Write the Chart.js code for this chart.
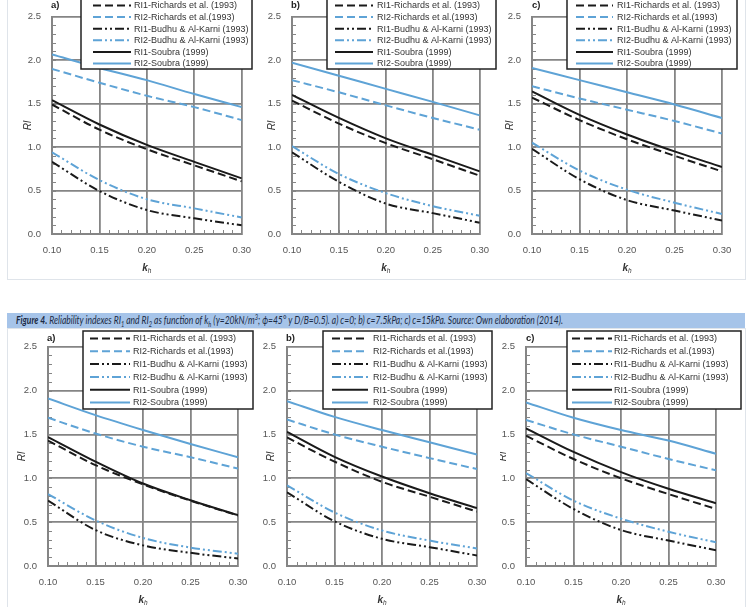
<!DOCTYPE html>
<html><head><meta charset="utf-8">
<script src="https://cdn.jsdelivr.net/npm/chart.js@4"></script>
<style>
html,body{margin:0;padding:0;background:#fff}
body{width:749px;height:607px;overflow:hidden;position:relative;font-family:"Liberation Sans",Arial,sans-serif}
canvas{position:absolute}
.frame{position:absolute;border:1px solid #dfe4ea;box-sizing:border-box}
#cap{position:absolute;left:7px;top:313px;width:738px;height:15px;background:#a6c4e9;font-family:Lato,"Open Sans",sans-serif;font-style:italic;font-size:10.5px;line-height:15px;color:#1b2a44;padding-left:9px;box-sizing:border-box;white-space:nowrap}
#cap span.t{display:inline-block;transform:scaleX(0.81);transform-origin:left center}
#cap sub,#cap sup{font-size:7px;line-height:0}
</style></head><body>
<div class="frame" style="left:7px;top:-2px;width:739px;height:282px"></div>
<div class="frame" style="left:7px;top:328px;width:739px;height:290px"></div>
<div id="cap"><span class="t"><b>Figure 4.</b> Reliability indexes RI<sub>1</sub> and RI<sub>2</sub> as function of k<sub>h</sub> (γ=20kN/m<sup>3</sup>; ϕ=45° y D/B=0.5). a) c=0; b) c=7.5kPa; c) c=15kPa. Source: Own elaboration (2014).</span></div>
<script>
// ---------- data ----------
const kh = [0.10, 0.15, 0.20, 0.25, 0.30];
const xTicks = [0.10, 0.15, 0.20, 0.25, 0.30];
const yTicks = [0.0, 0.5, 1.0, 1.5, 2.0, 2.5];
const seriesLabels = [
  'RI1-Richards et al. (1993)',
  'RI2-Richards et al.(1993)',
  'RI1-Budhu & Al-Karni (1993)',
  'RI2-Budhu & Al-Karni (1993)',
  'RI1-Soubra (1999)',
  'RI2-Soubra (1999)'
];
const panelLetters = ['a)', 'b)', 'c)', 'a)', 'b)', 'c)'];

// upper figure, panel a (c=0)
const topA_RI1_Richards = [1.49, 1.20, 0.975, 0.79, 0.605];
const topA_RI2_Richards = [1.90, 1.74, 1.59, 1.46, 1.31];
const topA_RI1_Budhu    = [0.83, 0.495, 0.276, 0.18, 0.10];
const topA_RI2_Budhu    = [0.94, 0.62, 0.40, 0.295, 0.19];
const topA_RI1_Soubra   = [1.54, 1.26, 1.025, 0.83, 0.64];
const topA_RI2_Soubra   = [2.065, 1.91, 1.77, 1.61, 1.46];
// upper figure, panel b
const topB_RI1_Richards = [1.535, 1.27, 1.045, 0.86, 0.67];
const topB_RI2_Richards = [1.77, 1.63, 1.48, 1.335, 1.20];
const topB_RI1_Budhu    = [0.94, 0.60, 0.35, 0.24, 0.13];
const topB_RI2_Budhu    = [1.01, 0.69, 0.47, 0.32, 0.21];
const topB_RI1_Soubra   = [1.60, 1.335, 1.10, 0.91, 0.72];
const topB_RI2_Soubra   = [1.97, 1.82, 1.67, 1.52, 1.365];
// upper figure, panel c
const topC_RI1_Richards = [1.57, 1.31, 1.09, 0.90, 0.72];
const topC_RI2_Richards = [1.70, 1.56, 1.43, 1.30, 1.155];
const topC_RI1_Budhu    = [0.98, 0.63, 0.39, 0.27, 0.155];
const topC_RI2_Budhu    = [1.05, 0.73, 0.51, 0.36, 0.23];
const topC_RI1_Soubra   = [1.64, 1.37, 1.145, 0.95, 0.77];
const topC_RI2_Soubra   = [1.91, 1.77, 1.63, 1.49, 1.335];
// Figure 4, panel a
const botA_RI1_Richards = [1.43, 1.15, 0.93, 0.745, 0.575];
const botA_RI2_Richards = [1.69, 1.51, 1.36, 1.24, 1.11];
const botA_RI1_Budhu    = [0.745, 0.41, 0.235, 0.15, 0.085];
const botA_RI2_Budhu    = [0.82, 0.52, 0.32, 0.21, 0.14];
const botA_RI1_Soubra   = [1.47, 1.19, 0.94, 0.75, 0.58];
const botA_RI2_Soubra   = [1.91, 1.72, 1.55, 1.39, 1.24];
// Figure 4, panel b
const botB_RI1_Richards = [1.465, 1.19, 0.96, 0.79, 0.62];
const botB_RI2_Richards = [1.67, 1.50, 1.36, 1.23, 1.105];
const botB_RI1_Budhu    = [0.84, 0.51, 0.31, 0.215, 0.12];
const botB_RI2_Budhu    = [0.92, 0.61, 0.405, 0.29, 0.20];
const botB_RI1_Soubra   = [1.53, 1.245, 1.02, 0.83, 0.66];
const botB_RI2_Soubra   = [1.88, 1.70, 1.55, 1.41, 1.27];
// Figure 4, panel c
const botC_RI1_Richards = [1.485, 1.22, 1.00, 0.82, 0.65];
const botC_RI2_Richards = [1.665, 1.50, 1.36, 1.22, 1.09];
const botC_RI1_Budhu    = [0.99, 0.65, 0.41, 0.29, 0.18];
const botC_RI2_Budhu    = [1.06, 0.745, 0.54, 0.39, 0.27];
const botC_RI1_Soubra   = [1.57, 1.30, 1.07, 0.88, 0.715];
const botC_RI2_Soubra   = [1.865, 1.69, 1.55, 1.43, 1.28];

const panelSeries = [
  [topA_RI1_Richards, topA_RI2_Richards, topA_RI1_Budhu, topA_RI2_Budhu, topA_RI1_Soubra, topA_RI2_Soubra],
  [topB_RI1_Richards, topB_RI2_Richards, topB_RI1_Budhu, topB_RI2_Budhu, topB_RI1_Soubra, topB_RI2_Soubra],
  [topC_RI1_Richards, topC_RI2_Richards, topC_RI1_Budhu, topC_RI2_Budhu, topC_RI1_Soubra, topC_RI2_Soubra],
  [botA_RI1_Richards, botA_RI2_Richards, botA_RI1_Budhu, botA_RI2_Budhu, botA_RI1_Soubra, botA_RI2_Soubra],
  [botB_RI1_Richards, botB_RI2_Richards, botB_RI1_Budhu, botB_RI2_Budhu, botB_RI1_Soubra, botB_RI2_Soubra],
  [botC_RI1_Richards, botC_RI2_Richards, botC_RI1_Budhu, botC_RI2_Budhu, botC_RI1_Soubra, botC_RI2_Soubra]
];

// ---------- styles & layout ----------
const BLACK = '#1a1a1a', BLUE = '#5ea3d6', GRID = '#858585';
const DASH = [8, 4], DDD = [9, 3, 2, 3, 2, 3];
const lineStyles = [
  {color: BLACK, dash: DASH}, {color: BLUE, dash: DASH},
  {color: BLACK, dash: DDD},  {color: BLUE, dash: DDD},
  {color: BLACK, dash: []},   {color: BLUE, dash: []}
];
const FONT = '"Liberation Sans", Arial, sans-serif';

const topLeg = {y1: -4, y2: 69, row0: 5.5, dy: 11.6};
const botLeg = {y1: 331, y2: 409, row0: 338.5, dy: 12.8};
const panels = [
  {cx: 0,   cy: 0,   cw: 262, ch: 280, L: 52,  R: 242, T: 14,  B: 234, titleX: 28,  khY: 268, letX: 51,  letY: 5,
   leg: Object.assign({x1: 81,  x2: 252, lx1: 93,  lx2: 131, tx: 134}, topLeg)},
  {cx: 250, cy: 0,   cw: 250, ch: 280, L: 292, R: 482, T: 14,  B: 234, titleX: 272, khY: 268, letX: 291, letY: 5,
   leg: Object.assign({x1: 327, x2: 496, lx1: 335, lx2: 373, tx: 377}, topLeg)},
  {cx: 500, cy: 0,   cw: 249, ch: 280, L: 532, R: 722, T: 14,  B: 234, titleX: 510, khY: 268, letX: 532, letY: 5,
   leg: Object.assign({x1: 567, x2: 737, lx1: 576, lx2: 613, tx: 617}, topLeg)},
  {cx: 0,   cy: 330, cw: 262, ch: 277, L: 48,  R: 238, T: 346, B: 566, titleX: 22,  khY: 600, letX: 47,  letY: 338,
   leg: Object.assign({x1: 83,  x2: 253, lx1: 90,  lx2: 130, tx: 133}, botLeg)},
  {cx: 250, cy: 330, cw: 250, ch: 277, L: 287, R: 477, T: 346, B: 566, titleX: 271, khY: 600, letX: 286, letY: 338,
   leg: Object.assign({x1: 323, x2: 492, lx1: 332, lx2: 368, tx: 373}, botLeg)},
  {cx: 500, cy: 330, cw: 249, ch: 277, L: 526, R: 716, T: 346, B: 566, titleX: 503, khY: 600, letX: 526, letY: 338,
   leg: Object.assign({x1: 567, x2: 741, lx1: 572, lx2: 612, tx: 614}, botLeg)}
];

function panelPlugin(p, idx) {
  return {
    id: 'panelDeco' + idx,
    beforeDatasetsDraw(chart) {
      const ctx = chart.ctx, xs = chart.scales.x, ys = chart.scales.y, a = chart.chartArea;
      ctx.save();
      ctx.strokeStyle = GRID; ctx.lineWidth = 1;
      for (let i = 1; i < 25; i++) {
        const py = Math.round(ys.getPixelForValue(i / 10)) + 0.5;
        ctx.beginPath(); ctx.moveTo(a.left, py); ctx.lineTo(a.left + 4, py); ctx.stroke();
      }
      for (let i = 11; i < 30; i++) {
        const px = Math.round(xs.getPixelForValue(i / 100)) + 0.5;
        ctx.beginPath(); ctx.moveTo(px, a.bottom); ctx.lineTo(px, a.bottom - 4); ctx.stroke();
      }
      ctx.restore();
    },
    afterDraw(chart) {
      const ctx = chart.ctx, a = chart.chartArea;
      const ox = p.cx, oy = p.cy, g = p.leg;
      ctx.save();
      // panel letter
      ctx.fillStyle = '#222'; ctx.font = 'bold 9.5px ' + FONT;
      ctx.textBaseline = 'middle'; ctx.textAlign = 'left';
      ctx.fillText(panelLetters[idx], p.letX - ox, p.letY - oy);
      // x axis title k_h
      const cxm = (a.left + a.right) / 2;
      ctx.font = 'italic bold 10px ' + FONT;
      const wk = ctx.measureText('k').width;
      ctx.font = 'italic 6.5px ' + FONT;
      const wh = ctx.measureText('h').width;
      const sx = cxm - (wk + wh) / 2;
      ctx.fillStyle = '#333';
      ctx.font = 'italic bold 10px ' + FONT;
      ctx.fillText('k', sx, p.khY - oy);
      ctx.font = 'italic 6.5px ' + FONT;
      ctx.fillText('h', sx + wk, p.khY - oy + 3);
      // legend box
      ctx.fillStyle = '#fff';
      ctx.fillRect(g.x1 - ox, g.y1 - oy, g.x2 - g.x1, g.y2 - g.y1);
      ctx.strokeStyle = '#222'; ctx.lineWidth = 1.5;
      ctx.strokeRect(g.x1 - ox, g.y1 - oy, g.x2 - g.x1, g.y2 - g.y1);
      chart.data.datasets.forEach((ds, i) => {
        const y = g.row0 + i * g.dy - oy;
        ctx.strokeStyle = ds.borderColor; ctx.lineWidth = 2;
        ctx.setLineDash(ds.borderDash || []);
        ctx.beginPath(); ctx.moveTo(g.lx1 - ox, y); ctx.lineTo(g.lx2 - ox, y); ctx.stroke();
        ctx.setLineDash([]);
        ctx.fillStyle = '#333'; ctx.font = '9px ' + FONT;
        ctx.fillText(ds.label, g.tx - ox, y + 0.5);
      });
      ctx.restore();
    }
  };
}

panels.forEach((p, idx) => {
  const canvas = document.createElement('canvas');
  canvas.width = p.cw; canvas.height = p.ch;
  canvas.style.left = p.cx + 'px'; canvas.style.top = p.cy + 'px';
  canvas.style.width = p.cw + 'px'; canvas.style.height = p.ch + 'px';
  document.body.appendChild(canvas);
  const Lr = p.L - p.cx, Rr = p.R - p.cx, Tr = p.T - p.cy, Br = p.B - p.cy;
  const tickFont = {family: FONT, size: 9.5};
  new Chart(canvas, {
    type: 'line',
    data: {
      datasets: panelSeries[idx].map((vals, i) => ({
        label: seriesLabels[i],
        data: kh.map((x, j) => ({x: x, y: vals[j]})),
        borderColor: lineStyles[i].color,
        borderDash: lineStyles[i].dash,
        borderWidth: 2,
        pointRadius: 0,
        fill: false,
        cubicInterpolationMode: 'monotone'
      }))
    },
    options: {
      responsive: false, animation: false, devicePixelRatio: 1,
      layout: {padding: {left: 0, top: Tr, right: p.cw - Rr, bottom: 0}},
      plugins: {legend: {display: false}, tooltip: {enabled: false}},
      scales: {
        x: {
          type: 'linear', min: xTicks[0], max: xTicks[xTicks.length - 1],
          afterBuildTicks: s => { s.ticks = xTicks.map(v => ({value: v})); },
          afterFit: s => { s.height = p.ch - Br; },
          grid: {color: GRID, lineWidth: 1.8, drawTicks: false},
          border: {color: GRID, width: 2},
          ticks: {padding: 11, color: '#555', font: tickFont, maxRotation: 0, autoSkip: false,
                  callback: v => Number(v).toFixed(2)}
        },
        y: {
          type: 'linear', min: yTicks[0], max: yTicks[yTicks.length - 1],
          afterBuildTicks: s => { s.ticks = yTicks.map(v => ({value: v})); },
          afterFit: s => { s.width = Lr; },
          grid: {color: GRID, lineWidth: 1.8, drawTicks: false},
          border: {color: GRID, width: 2},
          ticks: {padding: 11, color: '#555', font: tickFont, callback: v => Number(v).toFixed(1)},
          title: {display: true, text: 'RI', color: '#333',
                  font: {family: FONT, size: 10, style: 'italic'},
                  padding: {top: (p.titleX - p.cx) - 6, bottom: 0}}
        }
      }
    },
    plugins: [panelPlugin(p, idx)]
  });
});
</script>
</body></html>
